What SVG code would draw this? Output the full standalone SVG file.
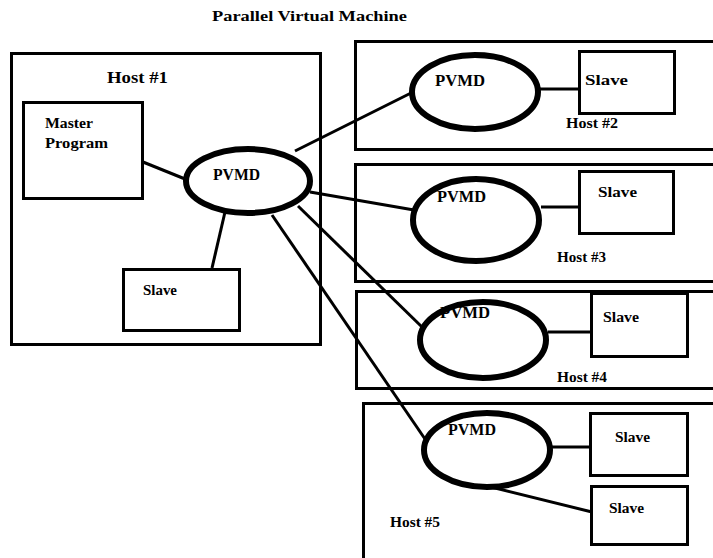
<svg xmlns="http://www.w3.org/2000/svg" width="713" height="558" viewBox="0 0 713 558">
<style>
.host{fill:none;stroke:#000;stroke-width:3}
.box{fill:#fff;stroke:#000;stroke-width:3}
.pvmd{fill:#fff;stroke:#000;stroke-width:6}
.conn{stroke:#000;stroke-width:3;fill:none}
text{font-family:"Liberation Serif","Times New Roman",serif;font-weight:bold;fill:#000}
.lbl{font-size:15px}
.ptext{font-size:16px}
</style>
<rect width="713" height="558" fill="#fff"/>
<text x="212" y="21" font-size="15" textLength="195" lengthAdjust="spacingAndGlyphs">Parallel Virtual Machine</text>

<g id="host1">
<rect class="host" x="11.5" y="53.5" width="309" height="291"/>
<text x="107" y="83" font-size="16" textLength="61" lengthAdjust="spacingAndGlyphs">Host #1</text>
</g>
<g id="host2">
<rect class="host" x="355.5" y="41.5" width="370" height="108"/>
<text class="lbl" x="566" y="128" textLength="52" lengthAdjust="spacingAndGlyphs">Host #2</text>
</g>
<g id="host3">
<rect class="host" x="355.5" y="164.5" width="370" height="117"/>
<text class="lbl" x="557" y="262" textLength="49" lengthAdjust="spacingAndGlyphs">Host #3</text>
</g>
<g id="host4">
<rect class="host" x="356.5" y="291.5" width="370" height="97"/>
<text class="lbl" x="557" y="382" textLength="50" lengthAdjust="spacingAndGlyphs">Host #4</text>
</g>
<g id="host5">
<rect class="host" x="363.5" y="403.5" width="370" height="170"/>
<text class="lbl" x="390" y="527" textLength="50" lengthAdjust="spacingAndGlyphs">Host #5</text>
</g>

<g id="connectors">
<line class="conn" x1="143" y1="162" x2="190" y2="181"/>
<line class="conn" x1="212" y1="268" x2="225" y2="212"/>
<line class="conn" x1="295" y1="151" x2="415" y2="91"/>
<line class="conn" x1="310" y1="192" x2="414" y2="210"/>
<line class="conn" x1="298" y1="206" x2="422" y2="327"/>
<line class="conn" x1="272" y1="215" x2="425" y2="439"/>
<line class="conn" x1="540" y1="89" x2="579" y2="89"/>
<line class="conn" x1="541" y1="207" x2="579" y2="207"/>
<line class="conn" x1="548" y1="332" x2="591" y2="332"/>
<line class="conn" x1="552" y1="447" x2="590" y2="447"/>
<line class="conn" x1="487" y1="486" x2="592" y2="512"/>
</g>

<g id="master">
<rect class="box" x="23.5" y="102.5" width="119" height="96"/>
<text x="45" y="128" font-size="14" textLength="48" lengthAdjust="spacingAndGlyphs">Master</text>
<text x="45" y="148" font-size="14" textLength="63" lengthAdjust="spacingAndGlyphs">Program</text>
</g>
<g id="slave1">
<rect class="box" x="123.5" y="269.5" width="116" height="61"/>
<text class="lbl" x="143" y="295" textLength="34" lengthAdjust="spacingAndGlyphs">Slave</text>
</g>
<g id="pvmd1">
<ellipse class="pvmd" cx="248" cy="181" rx="62" ry="32"/>
<text class="ptext" x="213" y="180" textLength="47" lengthAdjust="spacingAndGlyphs">PVMD</text>
</g>

<g id="pvmd2">
<ellipse class="pvmd" cx="475" cy="92" rx="63" ry="37"/>
<text class="ptext" x="435" y="86" textLength="50" lengthAdjust="spacingAndGlyphs">PVMD</text>
</g>
<g id="slave2">
<rect class="box" x="579.5" y="51.5" width="95" height="62"/>
<text class="lbl" x="585" y="85" textLength="43" lengthAdjust="spacingAndGlyphs">Slave</text>
</g>

<g id="pvmd3">
<ellipse class="pvmd" cx="476" cy="220" rx="63" ry="41"/>
<text class="ptext" x="437" y="202" textLength="49" lengthAdjust="spacingAndGlyphs">PVMD</text>
</g>
<g id="slave3">
<rect class="box" x="579.5" y="171.5" width="94" height="62"/>
<text class="lbl" x="598" y="197" textLength="39" lengthAdjust="spacingAndGlyphs">Slave</text>
</g>

<g id="pvmd4">
<ellipse class="pvmd" cx="483" cy="340" rx="63" ry="38"/>
<text class="ptext" x="440" y="318" textLength="50" lengthAdjust="spacingAndGlyphs">PVMD</text>
</g>
<g id="slave4">
<rect class="box" x="591.5" y="293.5" width="96" height="63"/>
<text class="lbl" x="603" y="322" textLength="36" lengthAdjust="spacingAndGlyphs">Slave</text>
</g>

<g id="pvmd5">
<ellipse class="pvmd" cx="487" cy="450" rx="63" ry="37"/>
<text class="ptext" x="448" y="435" textLength="48" lengthAdjust="spacingAndGlyphs">PVMD</text>
</g>
<g id="slave5a">
<rect class="box" x="590.5" y="413.5" width="97" height="62"/>
<text class="lbl" x="615" y="442" textLength="35" lengthAdjust="spacingAndGlyphs">Slave</text>
</g>
<g id="slave5b">
<rect class="box" x="591.5" y="486.5" width="96" height="58"/>
<text class="lbl" x="609" y="513" textLength="35" lengthAdjust="spacingAndGlyphs">Slave</text>
</g>
</svg>
